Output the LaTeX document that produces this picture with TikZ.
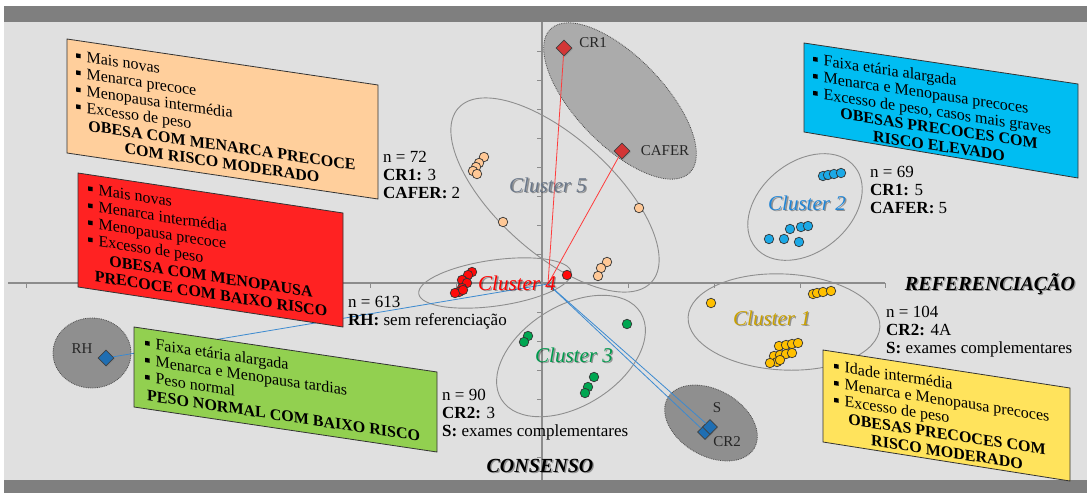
\documentclass[tikz,border=0pt]{standalone}
\usepackage{fontspec}
\setmainfont{Liberation Serif}
\usetikzlibrary{shapes.geometric,shadows}

\definecolor{band}{HTML}{7F7F7F}
\definecolor{plotbg}{HTML}{E0E0E0}
\definecolor{axisc}{HTML}{8C8C8C}
\definecolor{ringc}{HTML}{8E8E8E}
\definecolor{zoneA}{HTML}{ABABAB}
\definecolor{zoneB}{HTML}{8F8F8F}
\definecolor{peachbox}{HTML}{FFCF9C}
\definecolor{redbox}{HTML}{FF2222}
\definecolor{greenbox}{HTML}{92D050}
\definecolor{bluebox}{HTML}{00BDF2}
\definecolor{yellowbox}{HTML}{FFE35C}
\definecolor{ptpeach}{HTML}{FFC896}
\definecolor{ptred}{HTML}{FF0A0A}
\definecolor{ptgreen}{HTML}{00A651}
\definecolor{ptblue}{HTML}{1CA9E6}
\definecolor{ptgold}{HTML}{FFC000}
\definecolor{labslate}{HTML}{6A7789}
\definecolor{labgreen}{HTML}{00994C}
\definecolor{labblue}{HTML}{2185D5}
\definecolor{labgold}{HTML}{C9A000}
\definecolor{mkred}{HTML}{D33636}
\definecolor{mkblue}{HTML}{1F6EB2}
\definecolor{linkred}{HTML}{FF3B3B}
\definecolor{linkblue}{HTML}{3C8AD0}

% small square bullet used in the profile boxes
\newcommand{\sqb}{\raisebox{0.2em}{\rule{0.27em}{0.27em}}\hspace{0.38em}}

\begin{document}
\begin{tikzpicture}[x=1pt,y=-1pt,
  scoredot/.style={circle,draw=black!80,line width=0.7pt,minimum size=9.5pt,inner sep=0pt},
  clusterring/.style={draw=ringc,line width=0.9pt},
  zone/.style={draw=black!70,densely dotted,line width=0.8pt},
  markdiamond/.style={diamond,draw=black!75,line width=0.8pt,minimum size=16pt,inner sep=0pt,
    drop shadow={shadow xshift=1pt,shadow yshift=-1pt,opacity=0.45}},
  mklabel/.style={font=\fontsize{15}{15}\selectfont,text=black!85,inner sep=0pt},
  connector/.style={line width=0.8pt},
  infobox/.style={draw=black!80,line width=0.8pt},
  bullets/.style={align=left,anchor=north west,inner sep=0pt,font=\fontsize{16}{17}\selectfont},
  verdict/.style={align=center,anchor=north,inner sep=0pt,font=\bfseries\fontsize{16}{17.5}\selectfont},
  stats/.style={align=left,anchor=north west,inner sep=0pt,font=\fontsize{17}{18}\selectfont},
  clabel/.style={font=\itshape\fontsize{21}{21}\selectfont,inner sep=0pt},
  axlabel/.style={font=\bfseries\itshape\fontsize{20}{20}\selectfont,inner sep=0pt},
  textshadow/.style={text=black,opacity=0.35,xshift=1.3pt,yshift=-1.3pt},
]

% frame: plot area between two grey bands
\fill[white] (0,0) rectangle (1087,493);
\fill[plotbg] (4,22) rectangle (1087,480);
\fill[band] (4,6) rectangle (1087,22);
\fill[band] (4,480) rectangle (1087,493);
\useasboundingbox (0,0) rectangle (1087,493);

% axes with ticks
\draw[axisc,line width=1.3pt] (542,22) -- (542,480);
\draw[axisc,line width=1.3pt] (8,283) -- (885,283);
\foreach \x in {26,112,198,284,370,456,628,714,800,885}
  \draw[axisc,line width=1pt] (\x,283) -- (\x,288);
\foreach \y in {51,80,109,138,167,196,225,254,312,341,370,399,428,457}
  \draw[axisc,line width=1pt] (542,\y) -- (537,\y);

% cluster outlines
\draw[clusterring,rotate around={-42:(555,195)}] (555,195) ellipse[x radius=130,y radius=58];
\draw[clusterring,rotate around={8:(495,283)}] (495,283) ellipse[x radius=77,y radius=23];
\draw[clusterring,rotate around={32:(571,356)}] (571,356) ellipse[x radius=82,y radius=50];
\draw[clusterring,rotate around={39:(805,207)}] (805,207) ellipse[x radius=64,y radius=45];
\draw[clusterring,rotate around={-3:(784,322)}] (784,322) ellipse[x radius=96,y radius=48];

% shaded zones around the referral variables
\draw[zone,fill=zoneA,rotate around={-46:(620,101)}] (620,101) ellipse[x radius=100,y radius=44];
\draw[zone,fill=zoneB] (92,353) ellipse[x radius=39,y radius=35];
\draw[zone,fill=zoneB,rotate around={-30:(711,423)}] (711,423) ellipse[x radius=50,y radius=33];

% variable markers
\node[markdiamond,fill=mkred] (cr1) at (564,48) {};
\node[markdiamond,fill=mkred] (cafer) at (622,151) {};
\node[markdiamond,fill=mkblue] (rh) at (106,358) {};
\node[markdiamond,fill=mkblue,minimum size=15pt] (cr2) at (705,432) {};
\node[markdiamond,fill=mkblue,minimum size=15pt] (sdiam) at (710,427) {};
\coordinate (o) at (548,284);

% links from the origin to the variables
\draw[connector,linkred] (cr1) -- (o);
\draw[connector,linkred] (cafer) -- (o);
\draw[connector,linkblue] (rh) -- (o);
\draw[connector,linkblue] (sdiam) -- (o);
\draw[connector,linkblue] (cr2) -- (o);

% variable labels
\node[mklabel] (cr1-l) at (593,43) {CR1};
\node[mklabel] (cafer-l) at (665,151) {CAFER};
\node[mklabel] (rh-l) at (82,349) {RH};
\node[mklabel] (s-l) at (717,408) {S};
\node[mklabel] (cr2-l) at (727,442) {CR2};

% individuals, coloured by cluster
\foreach \x/\y [count=\i] in {484/157,479/163,476/167,473/171,477/174,503/222,639/208,607/262,601/268,598/276}
  \node[scoredot,fill=ptpeach] (c5p\i) at (\x,\y) {};
\foreach \x/\y [count=\i] in {472/272,468/275,465/282,462/280,467/283,462/288,459/292,455/293,463/290,567/275}
  \node[scoredot,fill=ptred] (c4p\i) at (\x,\y) {};
\foreach \x/\y [count=\i] in {627/324,528/336,524/342,594/377,588/387,585/393}
  \node[scoredot,fill=ptgreen] (c3p\i) at (\x,\y) {};
\foreach \x/\y [count=\i] in {823/176,828/175,834/174,841/173,769/239,784/239,790/229,801/227,808/226,799/242}
  \node[scoredot,fill=ptblue] (c2p\i) at (\x,\y) {};
\foreach \x/\y [count=\i] in {711/303,813/294,817/293,823/292,831/291,779/346,786/345,792/344,798/343,774/356,780/355,786/354,792/353,777/362,770/363,780/360}
  \node[scoredot,fill=ptgold] (c1p\i) at (\x,\y) {};

% cluster names
\node[clabel,textshadow] (c5lab-sh) at (548,185) {Cluster 5};
\node[clabel,text=labslate] (c5lab) at (548,185) {Cluster 5};
\node[clabel,textshadow] (c4lab-sh) at (517,283) {Cluster 4};
\node[clabel,text=red] (c4lab) at (517,283) {Cluster 4};
\node[clabel,textshadow] (c3lab-sh) at (574,355) {Cluster 3};
\node[clabel,text=labgreen] (c3lab) at (574,355) {Cluster 3};
\node[clabel,textshadow] (c2lab-sh) at (807,203) {Cluster 2};
\node[clabel,text=labblue] (c2lab) at (807,203) {Cluster 2};
\node[clabel,textshadow] (c1lab-sh) at (772,318) {Cluster 1};
\node[clabel,text=labgold] (c1lab) at (772,318) {Cluster 1};

% profile boxes
\filldraw[infobox,fill=peachbox] (67,39) -- (378,85) -- (378,199) -- (67,153) -- cycle;
\node[bullets,yslant=-0.148] (c5txt) at (76,50)
  {\sqb Mais novas\\\sqb Menarca precoce\\\sqb Menopausa intermédia\\\sqb Excesso de peso};
\node[verdict,yslant=-0.148] (c5ver) at (222,140) {OBESA COM MENARCA PRECOCE\\COM RISCO MODERADO};

\filldraw[infobox,fill=redbox] (78,173) -- (343,213) -- (343,327) -- (78,287) -- cycle;
\node[bullets,yslant=-0.151] (c4txt) at (88,183)
  {\sqb Mais novas\\\sqb Menarca intermédia\\\sqb Menopausa precoce\\\sqb Excesso de peso};
\node[verdict,yslant=-0.151] (c4ver) at (211,271) {OBESA COM MENOPAUSA\\PRECOCE COM BAIXO RISCO};

\filldraw[infobox,fill=greenbox] (134,327) -- (437,372) -- (437,452) -- (134,407) -- cycle;
\node[bullets,yslant=-0.149] (c3txt) at (145,337)
  {\sqb Faixa etária alargada\\\sqb Menarca e Menopausa tardias\\\sqb Peso normal};
\node[verdict,yslant=-0.149,anchor=north west] (c3ver) at (147,390) {PESO NORMAL COM BAIXO RISCO};

\filldraw[infobox,fill=bluebox] (804,43) -- (1078,84) -- (1078,178) -- (804,132) -- cycle;
\node[bullets,yslant=-0.15] (c2txt) at (813,53)
  {\sqb Faixa etária alargada\\\sqb Menarca e Menopausa precoces\\\sqb Excesso de peso, casos mais graves};
\node[verdict,yslant=-0.15] (c2ver) at (939,123) {OBESAS PRECOCES COM\\RISCO ELEVADO};

\filldraw[infobox,fill=yellowbox] (823,350) -- (1070,388) -- (1070,481) -- (823,442) -- cycle;
\node[bullets,yslant=-0.154] (c1txt) at (834,360)
  {\sqb Idade intermédia\\\sqb Menarca e Menopausa precoces\\\sqb Excesso de peso};
\node[verdict,yslant=-0.154] (c1ver) at (947,429) {OBESAS PRECOCES COM\\RISCO MODERADO};

% cluster sizes and referral figures
\node[stats] (c5n) at (383,151) {n = 72\\\textbf{CR1:} 3\\\textbf{CAFER:} 2};
\node[stats] (c2n) at (870,166) {n = 69\\\textbf{CR1:} 5\\\textbf{CAFER:} 5};
\node[stats] (c1n) at (886,306) {n = 104\\\textbf{CR2:} 4A\\\textbf{S:} exames complementares};
\node[stats] (c4n) at (348,296) {n = 613\\\textbf{RH:} sem referenciação};
\node[stats] (c3n) at (442,389) {n = 90\\\textbf{CR2:} 3\\\textbf{S:} exames complementares};

% axis names
\node[axlabel,textshadow] (ref-sh) at (990,284) {REFERENCIAÇÃO};
\node[axlabel] (ref) at (990,284) {REFERENCIAÇÃO};
\node[axlabel,textshadow] (cons-sh) at (540,466) {CONSENSO};
\node[axlabel] (cons) at (540,466) {CONSENSO};

\end{tikzpicture}
\end{document}
